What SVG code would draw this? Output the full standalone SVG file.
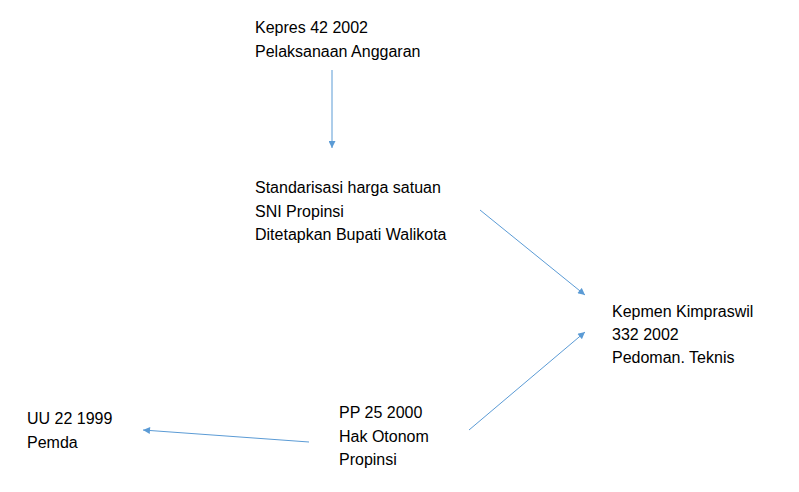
<svg xmlns="http://www.w3.org/2000/svg" width="799" height="492" viewBox="0 0 799 492">
<style>
text{font-family:"Liberation Sans",Arial,sans-serif;font-size:16px;fill:#000}
.c{stroke:#5B9BD5;stroke-width:1;fill:none}
</style>
<defs>
<marker id="ah" viewBox="0 0 10 10" refX="10" refY="5" markerWidth="8" markerHeight="7" markerUnits="userSpaceOnUse" orient="auto">
<path d="M0,0 L10,5 L0,10 z" fill="#5B9BD5"/>
</marker>
</defs>
<rect width="799" height="492" fill="#fff"/>
<g id="connectors">
<line class="c" x1="332" y1="70" x2="332" y2="148" marker-end="url(#ah)"/>
<line class="c" x1="480" y1="210" x2="585" y2="295" marker-end="url(#ah)"/>
<line class="c" x1="469" y1="430" x2="585" y2="332" marker-end="url(#ah)"/>
<line class="c" x1="309" y1="442" x2="143" y2="430" marker-end="url(#ah)"/>
</g>
<g id="kepres">
<text x="255" y="33">Kepres 42 2002</text>
<text x="255" y="57">Pelaksanaan Anggaran</text>
</g>
<g id="standarisasi">
<text x="255" y="193">Standarisasi harga satuan</text>
<text x="255" y="217">SNI Propinsi</text>
<text x="255" y="240">Ditetapkan Bupati Walikota</text>
</g>
<g id="kepmen">
<text x="612" y="317">Kepmen Kimpraswil</text>
<text x="612" y="340">332 2002</text>
<text x="612" y="363">Pedoman. Teknis</text>
</g>
<g id="uu">
<text x="27" y="424">UU 22 1999</text>
<text x="27" y="448">Pemda</text>
</g>
<g id="pp">
<text x="339" y="418">PP 25 2000</text>
<text x="339" y="442">Hak Otonom</text>
<text x="339" y="465">Propinsi</text>
</g>
</svg>
